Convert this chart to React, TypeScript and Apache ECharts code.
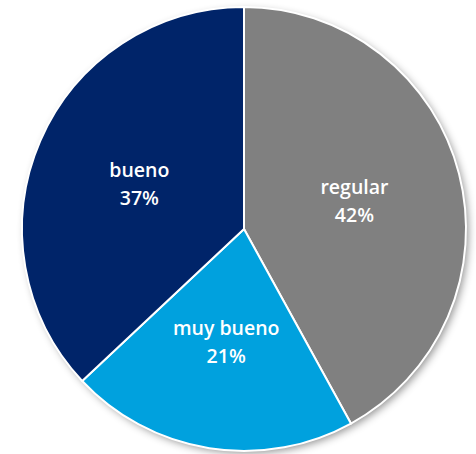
import React, { useEffect, useRef } from "react";
import * as echarts from "echarts";

const categories = ["regular", "muy bueno", "bueno"];
const values = [42, 21, 37];
const colors = ["#808080", "#00A1DE", "#002469"];

export default function App() {
  const ref = useRef<HTMLDivElement>(null);
  useEffect(() => {
    document.body.style.margin = "0";
    const chart = echarts.init(ref.current!, undefined, { renderer: "svg" });
    chart.setOption({
      animation: false,
      backgroundColor: "#ffffff",
      graphic: [
        {
          type: "circle",
          z: 0,
          shape: { cx: 244, cy: 228, r: 221 },
          style: {
            fill: "#ffffff",
            shadowBlur: 8,
            shadowOffsetX: 3,
            shadowOffsetY: 4,
            shadowColor: "rgba(0,0,0,0.45)",
          },
        },
      ],
      series: [
        {
          type: "pie",
          z: 2,
          center: [244, 229],
          radius: [0, 222],
          startAngle: 90,
          clockwise: true,
          silent: true,
          itemStyle: { borderColor: "#ffffff", borderWidth: 2 },
          label: {
            show: true,
            position: "inside",
            color: "#ffffff",
            fontFamily: "Open Sans",
            fontWeight: 600,
            fontSize: 19.5,
            lineHeight: 28,
            formatter: (p: any) => `${p.name}\n${p.value}%`,
          },
          labelLine: { show: false },
          data: categories.map((c, i) => ({
            name: c,
            value: values[i],
            itemStyle: { color: colors[i] },
          })),
        },
      ],
    });
    return () => chart.dispose();
  }, []);
  return <div ref={ref} style={{ width: 476, height: 454 }} />;
}
